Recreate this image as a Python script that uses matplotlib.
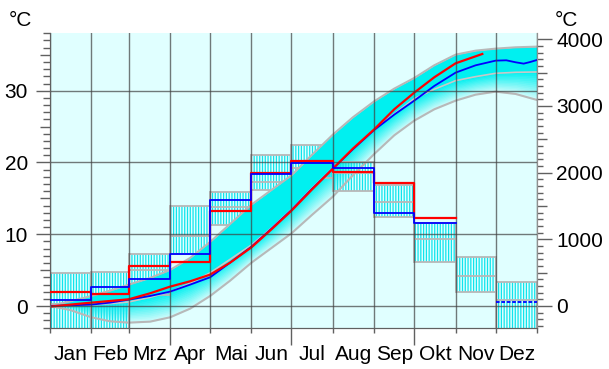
import numpy as np
import matplotlib
matplotlib.use("Agg")
import matplotlib.pyplot as plt
from matplotlib.ticker import MultipleLocator, FixedLocator, FixedFormatter, NullFormatter, FuncFormatter

plt.rcParams["font.family"] = ["Liberation Sans", "DejaVu Sans"]
plt.rcParams["hatch.linewidth"] = 0.9

# Monate / Tagesachse
months = ["Jan", "Feb", "Mrz", "Apr", "Mai", "Jun", "Jul", "Aug", "Sep", "Okt", "Nov", "Dez"]
month_start = [0, 31, 59, 90, 120, 151, 181, 212, 243, 273, 304, 334]
month_len = [31, 28, 31, 30, 31, 30, 31, 31, 30, 31, 30, 31]

# Monatsmittel °C: Spannweite (min/max), langj. Mittel, Jahr rot, Jahr blau
box_lo = [-6.5, -5.0, 1.5, 7.3, 11.3, 16.2, 17.9, 16.0, 12.4, 6.2, 1.9, -4.5]
box_hi = [4.6, 4.8, 7.2, 14.0, 15.9, 21.1, 22.4, 20.0, 16.9, 11.6, 6.9, 3.4]
box_mean = [0.3, 1.6, 5.0, 9.8, 13.8, 17.3, 19.2, 18.6, 14.5, 9.3, 4.2, 0.9]
red_month = [1.9, 1.7, 5.6, 6.2, 13.3, 18.5, 20.2, 18.7, 17.1, 12.3]
blue_month = [0.8, 2.7, 3.8, 7.2, 14.8, 18.4, 19.9, 19.2, 12.9, 11.6]
blue_dez = 0.5

# Temperatursumme (rechte Achse)
cum_days = [0, 15, 31, 45, 59, 75, 90, 105, 120, 135, 151, 166, 181, 196, 212,
            227, 243, 258, 273, 288, 304, 319, 334, 349, 365]
cum_max = [0, 70, 150, 230, 320, 420, 540, 720, 960, 1230, 1520, 1740, 1960, 2260, 2570,
           2830, 3070, 3260, 3420, 3610, 3770, 3830, 3860, 3880, 3890]
cum_mean = [0, 8, 15, 35, 60, 130, 212, 340, 497, 700, 916, 1170, 1450, 1760, 2070,
            2360, 2650, 2880, 3110, 3250, 3380, 3440, 3490, 3505, 3510]
cum_min = [0, -60, -170, -230, -250, -235, -170, -40, 150, 380, 650, 870, 1090, 1360, 1640,
           1960, 2280, 2560, 2780, 2950, 3080, 3170, 3215, 3180, 3090]

red_days = [0, 15, 31, 45, 59, 75, 90, 105, 120, 135, 151, 166, 181, 196, 212,
            227, 243, 258, 273, 288, 304, 324]
red_cum = [-10, 20, 50, 75, 100, 190, 290, 370, 470, 650, 880, 1150, 1430, 1740, 2060,
           2360, 2650, 2950, 3200, 3430, 3640, 3780]
blue_days = [0, 15, 31, 45, 59, 75, 90, 105, 120, 135, 151, 166, 181, 196, 212,
             227, 243, 258, 273, 288, 304, 319, 334, 342, 349, 355, 360, 365]
blue_cum = [0, 10, 20, 50, 95, 150, 215, 320, 430, 650, 890, 1160, 1440, 1750, 2060,
            2350, 2640, 2870, 3080, 3300, 3500, 3610, 3680, 3685, 3655, 3635, 3660, 3690]

grid_levels = [0, 10, 20, 30]

fig = plt.figure(figsize=(6.09, 3.69), dpi=100)
ax = fig.add_axes([50 / 609, 1 - 328.3 / 369, 487 / 609, 295 / 369])
ax2 = ax.twinx()
ax.set_zorder(2)
ax2.set_zorder(1)
ax.patch.set_visible(False)
ax2.patch.set_visible(True)
ax2.patch.set_facecolor("#e0ffff")

ax.set_xlim(0, 365)
ax.set_ylim(-3.1, 38.0)
ax2.set_ylim(-335, 4090)

cyan = "#00f0f0"
gray = "#b8b8b8"

# Verlauf Mittel -> Minimum
d = np.array(cum_days)
mx, mn, lo = np.array(cum_max), np.array(cum_mean), np.array(cum_min)
n_layers = 14
c_top = np.array([0, 240, 240]) / 255
c_bot = np.array([212, 252, 252]) / 255
for i in range(n_layers):
    f0, f1 = i / n_layers, (i + 1) / n_layers
    col = c_top + (c_bot - c_top) * (f0 + f1) / 2
    ax2.fill_between(d, mn - (mn - lo) * f1, mn - (mn - lo) * f0,
                     color=col, ec=col, lw=0.6, zorder=1)

# Monatskästen (schraffiert), in °C-Skala
ax2.bar(month_start, np.subtract(box_hi, box_lo), width=month_len, bottom=box_lo,
        align="edge", fill=False, hatch="||||||", edgecolor="#10e4ec", linewidth=0,
        transform=ax.transData, zorder=2)
ax2.bar(month_start, np.subtract(box_hi, box_lo), width=month_len, bottom=box_lo,
        align="edge", fill=False, edgecolor=gray, linewidth=1.3,
        transform=ax.transData, zorder=2.1)
ax2.hlines(box_mean, month_start, np.add(month_start, month_len), colors=gray,
           linewidth=1.3, transform=ax.transData, zorder=2.1)

# gesättigtes Band Mittel -> Maximum
ax2.fill_between(d, mn, mx, color=cyan, lw=0, zorder=3)
ax2.plot(d, mx, color=gray, lw=1.5, zorder=3.2)
ax2.plot(d, mn, color="#c8c8c8", lw=1.2, zorder=3.2)
ax2.plot(d, lo, color=gray, lw=1.5, zorder=3.2)

ax2.plot(blue_days, blue_cum, color="#0000ff", lw=1.3, zorder=4)
ax2.plot(red_days, red_cum, color="#ff0000", lw=1.6, zorder=4.1)

# Monatswerte als Stufen
ms_red = month_start[:len(red_month)] + [month_start[len(red_month) - 1] + month_len[len(red_month) - 1]]
ax.step(ms_red, red_month + [red_month[-1]], where="post", color="#ff0000", lw=1.6, zorder=3)
ms_blue = month_start[:len(blue_month)] + [month_start[len(blue_month) - 1] + month_len[len(blue_month) - 1]]
ax.step(ms_blue, blue_month + [blue_month[-1]], where="post", color="#0000ff", lw=1.3, zorder=3.1)
ax.hlines(blue_dez, month_start[11], 365, colors="#0000ff", linestyles=(0, (2, 1)), lw=1.3, zorder=3.1)

# Gitter
ax.set_axisbelow(True)
ax.grid(axis="x", which="major", color="#404040", alpha=0.7, lw=1)
for v in grid_levels:
    ax.axhline(v, color="#404040", alpha=0.7, lw=1, zorder=1)

# Achsen
tick_col = "#606060"
ax.xaxis.set_major_locator(FixedLocator(month_start + [365]))
ax.xaxis.set_major_formatter(NullFormatter())
ax.xaxis.set_minor_locator(FixedLocator([s + l / 2 for s, l in zip(month_start, month_len)]))
ax.xaxis.set_minor_formatter(FixedFormatter(months))
ax.tick_params(axis="x", which="major", length=3.6, width=1, color=tick_col)
ax.tick_params(axis="x", which="minor", length=0, pad=12, labelsize=15)
for t, loc in zip(ax.xaxis.get_major_ticks(), ax.xaxis.get_majorticklocs()):
    if loc in (90, 181, 273):
        t.tick1line.set_markersize(12.5)

ax.yaxis.set_major_locator(MultipleLocator(5))
ax.yaxis.set_minor_locator(MultipleLocator(1))
ax.yaxis.set_major_formatter(FuncFormatter(lambda v, p: f"{int(round(v))}" if round(v) % 10 == 0 else ""))
ax.tick_params(axis="y", which="major", length=10, width=1, pad=6, labelsize=15, color=tick_col)
ax.tick_params(axis="y", which="minor", length=5, width=1, color=tick_col)
for t, loc in zip(ax.yaxis.get_major_ticks(), ax.yaxis.get_majorticklocs()):
    if round(loc) % 10 != 0:
        t.tick1line.set_markersize(7)

ax2.yaxis.set_major_locator(MultipleLocator(500))
ax2.yaxis.set_minor_locator(MultipleLocator(100))
ax2.yaxis.set_major_formatter(FuncFormatter(lambda v, p: f"{int(round(v))}" if round(v) % 1000 == 0 else ""))
ax2.tick_params(axis="y", which="major", length=11, width=1, pad=3, labelsize=15, color=tick_col)
ax2.tick_params(axis="y", which="minor", length=4.5, width=1, color=tick_col)
for t, loc in zip(ax2.yaxis.get_major_ticks(), ax2.yaxis.get_majorticklocs()):
    if round(loc) % 1000 != 0:
        t.tick2line.set_markersize(7.5)

for a in (ax, ax2):
    a.spines["top"].set_visible(False)
    a.spines["left"].set_color(tick_col)
    a.spines["bottom"].set_color(tick_col)
    a.spines["right"].set_color("#909090")

fig.text(20 / 609, 1 - 20 / 369, "°C", ha="center", va="center", fontsize=15)
fig.text(566 / 609, 1 - 20 / 369, "°C", ha="center", va="center", fontsize=15)

fig.savefig("out.png", dpi=100)
